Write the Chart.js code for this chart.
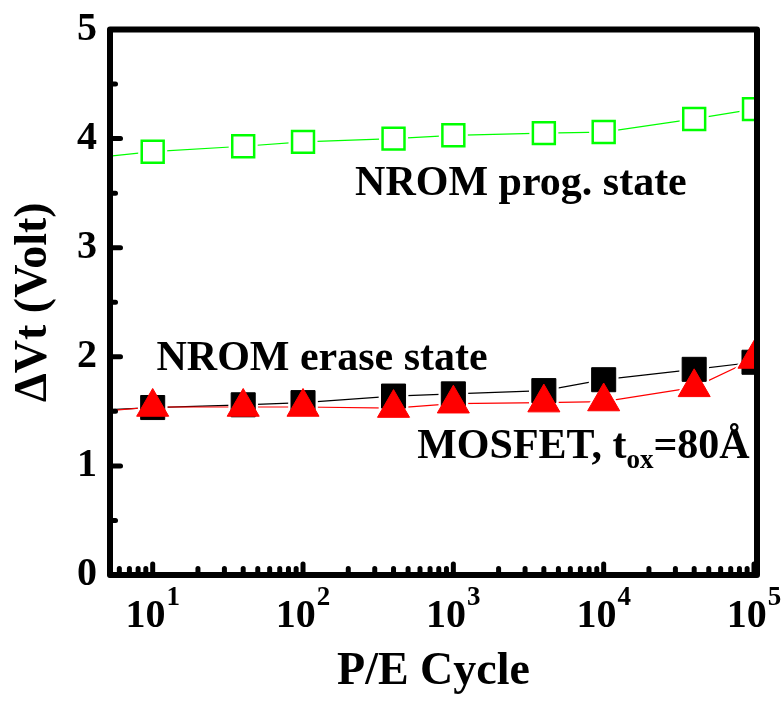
<!DOCTYPE html>
<html>
<head>
<meta charset="utf-8">
<script src="https://cdn.jsdelivr.net/npm/chart.js@4.4.1/dist/chart.umd.min.js"></script>
<style>
  html, body { margin: 0; padding: 0; background: #ffffff; }
  #wrap { width: 781px; height: 704px; }
</style>
</head>
<body>
<div id="wrap"><canvas id="c" width="781" height="704"></canvas></div>
<script>
// ---------------- data ----------------
const cycles    = [1, 10, 40, 100, 400, 1000, 4000, 10000, 40000, 100000];
const nromProg  = [3.74, 3.88, 3.93, 3.97, 4.00, 4.03, 4.05, 4.06, 4.18, 4.27];
const nromErase = [1.47, 1.535, 1.56, 1.58, 1.64, 1.66, 1.69, 1.79, 1.885, 1.95];
const mosfet    = [1.42, 1.54, 1.54, 1.54, 1.53, 1.57, 1.58, 1.59, 1.72, 1.98];

const xMajorExponents = [1, 2, 3, 4, 5];
const xMinorMultipliers = [2, 3, 4, 5, 6, 7, 8, 9];
const yTickLabels = ['0', '1', '2', '3', '4', '5'];

const FONT = "'Liberation Serif', 'Times New Roman', serif";

// ---------------- helpers ----------------
const pts = (ys) => cycles.map((c, i) => ({ x: c, y: ys[i] }));

const xTickValues = [];
[0, 1, 2, 3, 4].forEach(e => {
  xMinorMultipliers.forEach(m => xTickValues.push(m * Math.pow(10, e)));
  xTickValues.push(Math.pow(10, e + 1));
});

function lineSet(ys, color, width, order) {
  return { data: pts(ys), borderColor: color, borderWidth: width, pointRadius: 0,
           showLine: true, fill: false, tension: 0, clip: 0, order: order };
}
function maskSet(ys, style, radius, order) {
  return { data: pts(ys), showLine: false, pointStyle: style, pointRadius: radius,
           pointBackgroundColor: '#ffffff', pointBorderWidth: 0, pointBorderColor: '#ffffff',
           clip: 0, order: order };
}
function markSet(ys, style, radius, fill, stroke, bw, order) {
  return { data: pts(ys), showLine: false, pointStyle: style, pointRadius: radius,
           pointBackgroundColor: fill, pointBorderColor: stroke, pointBorderWidth: bw,
           clip: 0, order: order };
}

const notes = [
  { x: 222, y: 3.48, parts: [['NROM prog. state', 0]] },
  { x: 10.6, y: 1.88, parts: [['NROM erase state', 0]] },
  { x: 575, y: 1.07, parts: [['MOSFET, t', 0], ['ox', 1], ['=80\u00C5', 0]] }
];

const decor = {
  id: 'decor',
  afterDatasetsDraw(chart) {
    const { ctx, chartArea: a, scales: { x, y } } = chart;
    ctx.save();
    ctx.strokeStyle = '#000';
    ctx.fillStyle = '#000';
    ctx.lineCap = 'round';
    ctx.lineWidth = 5;
    // y inward ticks
    y.ticks.forEach(t => {
      const py = y.getPixelForValue(t.value);
      const len = Number.isInteger(t.value) ? 10.5 : 5.5;
      ctx.beginPath(); ctx.moveTo(a.left, py); ctx.lineTo(a.left + len, py); ctx.stroke();
    });
    // x inward ticks
    x.ticks.forEach(t => {
      const px = x.getPixelForValue(t.value);
      if (px < a.left + 2 || px > a.right - 2) return;
      const lg = Math.log10(t.value);
      const major = Math.abs(lg - Math.round(lg)) < 1e-9;
      const len = major ? 11 : 6.5;
      ctx.beginPath(); ctx.moveTo(px, a.bottom); ctx.lineTo(px, a.bottom - len); ctx.stroke();
    });
    // frame
    ctx.lineCap = 'butt';
    ctx.lineJoin = 'round';
    ctx.lineWidth = 6;
    ctx.strokeRect(a.left, a.top, a.right - a.left, a.bottom - a.top);

    // x tick labels 10^k
    ctx.textBaseline = 'alphabetic';
    ctx.textAlign = 'left';
    xMajorExponents.forEach(k => {
      const px = x.getPixelForValue(Math.pow(10, k));
      ctx.font = 'bold 40px ' + FONT;
      const w1 = ctx.measureText('10').width;
      ctx.font = 'bold 27px ' + FONT;
      const w2 = ctx.measureText(String(k)).width;
      const x0 = px - (w1 + 1 + w2) / 2;
      ctx.font = 'bold 40px ' + FONT;
      ctx.fillText('10', x0, 627);
      ctx.font = 'bold 27px ' + FONT;
      ctx.fillText(String(k), x0 + w1 + 1, 605);
    });

    // annotations
    notes.forEach(n => {
      let px = x.getPixelForValue(n.x);
      const py = y.getPixelForValue(n.y);
      n.parts.forEach(([txt, sub]) => {
        ctx.font = sub ? 'bold 27px ' + FONT : 'bold 42px ' + FONT;
        ctx.fillText(txt, px, py + (sub ? 10 : 0));
        px += ctx.measureText(txt).width;
      });
    });
    ctx.restore();
  }
};

new Chart(document.getElementById('c'), {
  type: 'scatter',
  data: {
    datasets: [
      markSet(mosfet, 'triangle', 18.5, '#ff0000', '#ff0000', 1, 0),
      markSet(nromErase, 'rect', 17, '#000000', '#000000', 1, 1),
      markSet(nromProg, 'rect', 15.5, 'rgba(0,0,0,0)', '#00ff00', 2.5, 2),
      maskSet(mosfet, 'triangle', 23, 3),
      maskSet(nromErase, 'rect', 21, 4),
      maskSet(nromProg, 'rect', 20.5, 5),
      lineSet(mosfet, '#ff0000', 1.2, 6),
      lineSet(nromErase, '#000000', 1.2, 7),
      lineSet(nromProg, '#00ff00', 1.2, 8)
    ]
  },
  options: {
    responsive: false,
    animation: false,
    devicePixelRatio: 1,
    layout: { padding: { left: 0, right: 24, top: 29.5, bottom: 0 } },
    plugins: { legend: { display: false }, tooltip: { enabled: false } },
    elements: { point: { hoverRadius: 0 } },
    scales: {
      x: {
        type: 'logarithmic',
        min: 5.2,
        max: 104700,
        grid: { display: false },
        border: { display: false },
        ticks: { display: false },
        afterBuildTicks: (s) => { s.ticks = xTickValues.map(v => ({ value: v })); },
        afterFit: (s) => { s.height = 129; },
        title: { display: true, text: 'P/E Cycle', color: '#000',
                 font: { family: FONT, weight: 'bold', size: 46 },
                 padding: { top: 0, bottom: 4 } }
      },
      y: {
        type: 'linear',
        min: 0,
        max: 5,
        grid: { display: false, drawTicks: false },
        border: { display: false },
        ticks: {
          stepSize: 0.5,
          autoSkip: false,
          padding: 13,
          color: '#000',
          font: { family: FONT, weight: 'bold', size: 40, lineHeight: 0.3 },
          callback: (v) => Number.isInteger(v) ? yTickLabels[v] : ''
        },
        afterFit: (s) => { s.width = 110; },
        title: { display: true, text: '\u0394Vt (Volt)', color: '#000',
                 font: { family: FONT, weight: 'bold', size: 46 },
                 padding: { top: 7, bottom: 0 } }
      }
    }
  },
  plugins: [decor]
});
</script>
</body>
</html>
